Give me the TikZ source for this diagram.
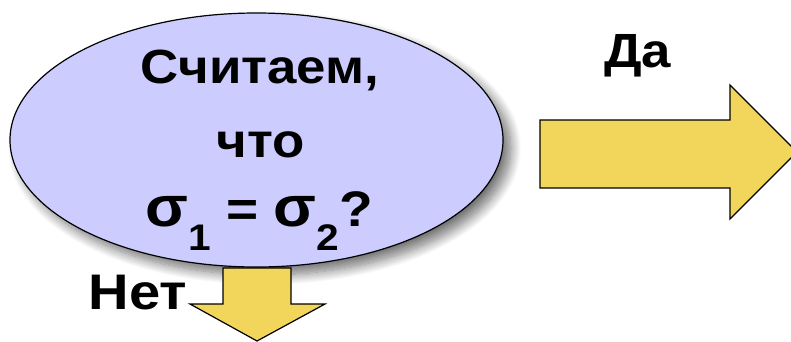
\documentclass[tikz,border=0pt]{standalone}
\usepackage{fontspec}
\setmainfont{Liberation Sans}
\usetikzlibrary{shapes.geometric,shadows.blur}
\definecolor{ellfill}{HTML}{CCCCFF}
\definecolor{arrfill}{HTML}{F2D65C}
\newcommand{\bigsig}{{\fontsize{57}{57}\selectfont σ}}
\newcommand{\subdig}[1]{\raisebox{-24pt}{\fontsize{37}{37}\selectfont #1}}
\tikzset{
  question/.style={ellipse, draw=black, line width=1.2pt, fill=ellfill, minimum width=493pt, minimum height=254pt, inner sep=0pt,
    blur shadow={shadow xshift=8pt, shadow yshift=-8pt, shadow blur steps=14, shadow blur radius=10pt, shadow opacity=55}},
  blockarrow/.style={draw=black, line width=1.2pt, fill=arrfill, line join=miter},
  lbl/.style={inner sep=0pt, anchor=base, xscale=1.1},
}
\begin{document}
\begin{tikzpicture}[x=1pt,y=-1pt]
\useasboundingbox (0,0) rectangle (791,341);
\node[question] (q) at (256.5,140) {};
\node[lbl, font=\bfseries\fontsize{48}{48}\selectfont] (l1) at (260,83) {Считаем,};
\node[lbl, font=\bfseries\fontsize{48}{48}\selectfont] (l2) at (260.5,157) {что};
\node[lbl, xscale=1.0, font=\bfseries\fontsize{50}{50}\selectfont] (l3) at (259,226) {\bigsig\subdig{1} = \bigsig\subdig{2}?};
% right arrow (Yes)
\draw[blockarrow] (540,120) -- (730,120) -- (730,85) -- (797,152) -- (730,219) -- (730,188) -- (540,188) -- cycle;
\node[lbl, font=\bfseries\fontsize{48}{48}\selectfont] (yes) at (637.5,67) {Да};
% down arrow (No)
\draw[blockarrow] (223,268) -- (291,268) -- (291,304) -- (325,304) -- (257,341) -- (190,304) -- (223,304) -- cycle;
\node[lbl, xscale=1.02, font=\bfseries\fontsize{50}{50}\selectfont] (no) at (138,309) {Нет};
\end{tikzpicture}
\end{document}
